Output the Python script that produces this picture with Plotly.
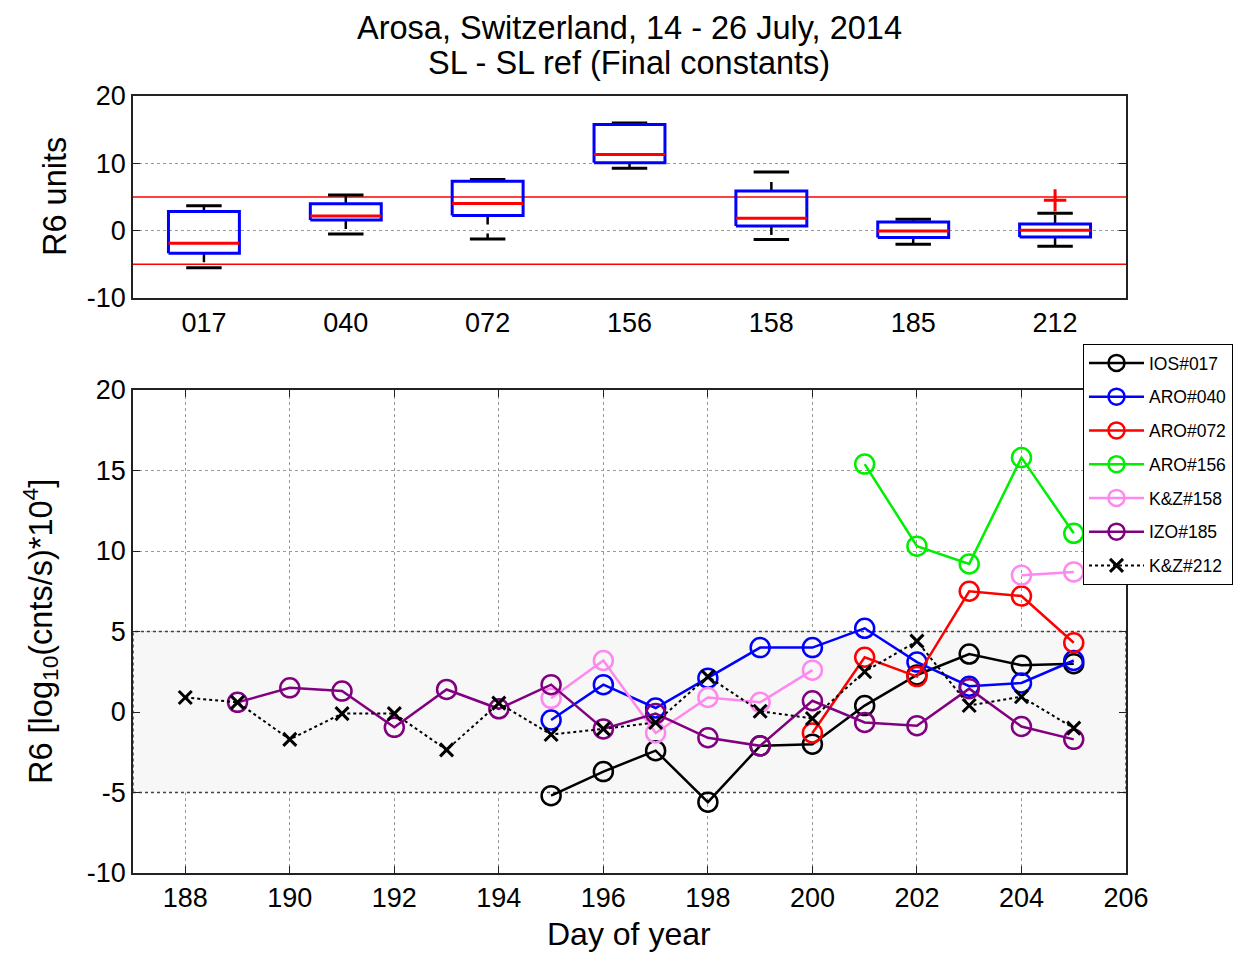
import plotly.graph_objects as go

# ---------------- data ----------------
box_labels = ["017", "040", "072", "156", "158", "185", "212"]
box_q1 = [-3.35, 1.58, 2.27, 10.1, 0.7, -1.0, -0.95]
box_median = [-1.87, 2.17, 4.04, 11.3, 1.85, -0.05, 0.05]
box_q3 = [2.86, 4.0, 7.34, 15.76, 5.9, 1.3, 1.0]
box_low = [-5.5, -0.5, -1.23, 9.26, -1.3, -2.0, -2.3]
box_high = [3.7, 5.3, 7.6, 16.0, 8.7, 1.7, 2.6]
outlier_label = ["212"]
outlier_value = [4.5]
limit_lines = [5, -5]

ios017_days = [195, 196, 197, 198, 199, 200, 201, 202, 203, 204, 205]
ios017_vals = [-5.2, -3.7, -2.4, -5.6, -2.1, -2.0, 0.4, 2.3, 3.6, 2.9, 3.0]

aro040_days = [195, 196, 197, 198, 199, 200, 201, 202, 203, 204, 205]
aro040_vals = [-0.5, 1.7, 0.25, 2.1, 4.0, 4.0, 5.2, 3.1, 1.6, 1.8, 3.2]

aro072_days = [200, 201, 202, 203, 204, 205]
aro072_vals = [-1.3, 3.4, 2.2, 7.5, 7.2, 4.3]

aro156_days = [201, 202, 203, 204, 205]
aro156_vals = [15.4, 10.3, 9.2, 15.8, 11.1]

kz158_days = [195, 196, 197, 198, 199, 200, None, 204, 205]
kz158_vals = [0.85, 3.2, -1.3, 0.9, 0.6, 2.6, None, 8.5, 8.7]

izo185_days = [189, 190, 191, 192, 193, 194, 195, 196, 197, 198, 199, 200, 201, 202, 203, 204, 205]
izo185_vals = [0.6, 1.5, 1.3, -0.95, 1.4, 0.2, 1.7, -1.05, -0.1, -1.6, -2.1, 0.7, -0.65, -0.85, 1.45, -0.9, -1.7]

kz212_days = [188, 189, 190, 191, 192, 193, 194, 195, 196, 197, 198, 199, 200, 201, 202, 203, 204, 205]
kz212_vals = [0.9, 0.6, -1.7, -0.1, -0.1, -2.35, 0.55, -1.4, -1.05, -0.65, 2.2, 0.05, -0.4, 2.5, 4.4, 0.4, 0.95, -1.0]

x_ticks = list(range(188, 207, 2))
y_top_ticks = [-10, 0, 10, 20]
y_bot_ticks = [-10, -5, 0, 5, 10, 15, 20]
x_range = [187, 206]
band = [-5, 5]

# ---------------- figure ----------------
FONT = "Liberation Sans, Arial, sans-serif"
W, H = 1245, 954
fig = go.Figure()

def lab(v):
    return str(v).replace("\u2212", "-")

# --- top box plot built from the box statistics ---
pos = list(range(1, len(box_labels) + 1))
hw, cw = 0.25, 0.125
bx, by, mx, my, wx, wy, cx, cy = [], [], [], [], [], [], [], []
for p, q1, md, q3, lo, hi in zip(pos, box_q1, box_median, box_q3, box_low, box_high):
    bx += [p - hw, p + hw, p + hw, p - hw, p - hw, None]
    by += [q1, q1, q3, q3, q1, None]
    mx += [p - hw, p + hw, None]
    my += [md, md, None]
    wx += [p, p, None, p, p, None]
    wy += [q3, hi, None, q1, lo, None]
    cx += [p - cw, p + cw, None, p - cw, p + cw, None]
    cy += [hi, hi, None, lo, lo, None]

lx, ly = [], []
for v in limit_lines:
    lx += [0.5, 7.5, None]
    ly += [v, v, None]
fig.add_trace(go.Scatter(x=lx, y=ly, mode="lines", line=dict(color="#ff0000", width=1.5),
                         xaxis="x", yaxis="y", showlegend=False, hoverinfo="skip"))
fig.add_trace(go.Scatter(x=wx, y=wy, mode="lines", line=dict(color="black", width=2.5, dash="dash"),
                         xaxis="x", yaxis="y", showlegend=False, hoverinfo="skip"))
fig.add_trace(go.Scatter(x=cx, y=cy, mode="lines", line=dict(color="black", width=3),
                         xaxis="x", yaxis="y", showlegend=False, hoverinfo="skip"))
fig.add_trace(go.Scatter(x=bx, y=by, mode="lines", line=dict(color="#0000ff", width=3),
                         xaxis="x", yaxis="y", showlegend=False, hoverinfo="skip"))
fig.add_trace(go.Scatter(x=mx, y=my, mode="lines", line=dict(color="#ff0000", width=3),
                         xaxis="x", yaxis="y", showlegend=False, hoverinfo="skip"))
fig.add_trace(go.Scatter(x=[pos[box_labels.index(l)] for l in outlier_label], y=outlier_value,
                         mode="markers",
                         marker=dict(symbol="cross-thin-open", size=16, color="#ff0000",
                                     line=dict(color="#ff0000", width=3)),
                         xaxis="x", yaxis="y", showlegend=False, hoverinfo="skip"))

# --- bottom: shaded +-5 band (drawn as the first trace so it covers the grid) ---
fig.add_trace(go.Scatter(x=[x_range[0], x_range[1], x_range[1], x_range[0], x_range[0]],
                         y=[band[0], band[0], band[1], band[1], band[0]],
                         mode="lines", fill="toself", fillcolor="#f7f7f7",
                         line=dict(color="#444444", width=1.5, dash="dot"),
                         xaxis="x2", yaxis="y2", showlegend=False, hoverinfo="skip"))

series = [
    ("IOS#017", ios017_days, ios017_vals, "#000000"),
    ("ARO#040", aro040_days, aro040_vals, "#0000ff"),
    ("ARO#072", aro072_days, aro072_vals, "#ff0000"),
    ("ARO#156", aro156_days, aro156_vals, "#00ee00"),
    ("K&Z#158", kz158_days, kz158_vals, "#ff88ee"),
    ("IZO#185", izo185_days, izo185_vals, "#800080"),
]
for name, d, v, c in series:
    fig.add_trace(go.Scatter(x=d, y=v, name=name, mode="lines+markers",
                             line=dict(color=c, width=2.5),
                             marker=dict(symbol="circle-open", size=19, color=c, line=dict(color=c, width=2.5)),
                             xaxis="x2", yaxis="y2", legendgroup=name, connectgaps=False))
fig.add_trace(go.Scatter(x=kz212_days, y=kz212_vals, name="K&Z#212", mode="lines+markers",
                         line=dict(color="black", width=2, dash="dot"),
                         marker=dict(symbol="x-thin-open", size=13, color="black", line=dict(color="black", width=3)),
                         xaxis="x2", yaxis="y2", legendgroup="K&Z#212"))

xd = [133 / W, 1126 / W]
top_dom = [1 - 298 / H, 1 - 96 / H]
bot_dom = [1 - 873 / H, 1 - 390 / H]

axis_common = dict(showline=True, linecolor="#222222", linewidth=1.5, mirror="ticks",
                   ticks="inside", tickcolor="#222222", zeroline=False,
                   tickfont=dict(family=FONT, size=27, color="black"))
grid = dict(showgrid=True, gridcolor="#9a9a9a", griddash="dot", gridwidth=1)

fig.update_layout(
    width=W, height=H,
    margin=dict(l=0, r=0, t=0, b=0, autoexpand=False),
    plot_bgcolor="white", paper_bgcolor="white",
    font=dict(family=FONT, color="black"),
    xaxis=dict(domain=xd, anchor="y", range=[0.5, 7.5], tickvals=pos, ticktext=box_labels,
               showgrid=False, ticklen=0, **axis_common),
    yaxis=dict(domain=top_dom, anchor="x", range=[-10, 20], tickvals=y_top_ticks,
               ticktext=[lab(v) for v in y_top_ticks], ticklen=7, **grid, **axis_common),
    xaxis2=dict(domain=xd, anchor="y2", range=x_range, tickvals=x_ticks,
                ticktext=[lab(v) for v in x_ticks], ticklen=7, **grid, **axis_common),
    yaxis2=dict(domain=bot_dom, anchor="x2", range=[-10, 20], tickvals=y_bot_ticks,
                ticktext=[lab(v) for v in y_bot_ticks], ticklen=7, **grid, **axis_common),
    legend=dict(x=1083 / W, y=1 - 344 / H, xanchor="left", yanchor="top",
                bgcolor="white", bordercolor="black", borderwidth=1,
                font=dict(family=FONT, size=17.5, color="black"),
                tracegroupgap=8, traceorder="grouped", itemwidth=55),
    annotations=[
        dict(text="Arosa, Switzerland, 14 - 26 July, 2014", xref="paper", yref="paper",
             x=629 / W, y=1 - 28 / H, xanchor="center", yanchor="middle", showarrow=False,
             font=dict(family=FONT, size=32.5)),
        dict(text="SL - SL ref (Final constants)", xref="paper", yref="paper",
             x=629 / W, y=1 - 63 / H, xanchor="center", yanchor="middle", showarrow=False,
             font=dict(family=FONT, size=32.5)),
        dict(text="R6 units", xref="paper", yref="paper", textangle=-90,
             x=55 / W, y=1 - 197 / H, xanchor="center", yanchor="middle", showarrow=False,
             font=dict(family=FONT, size=32.5)),
        dict(text="R6 [log<sub>10</sub>(cnts/s)*10<sup>4</sup>]", xref="paper", yref="paper", textangle=-90,
             x=40 / W, y=1 - 632 / H, xanchor="center", yanchor="middle", showarrow=False,
             font=dict(family=FONT, size=32.5)),
        dict(text="Day of year", xref="paper", yref="paper",
             x=629 / W, y=1 - 934 / H, xanchor="center", yanchor="middle", showarrow=False,
             font=dict(family=FONT, size=32)),
    ],
)

fig.write_html("out.html")
